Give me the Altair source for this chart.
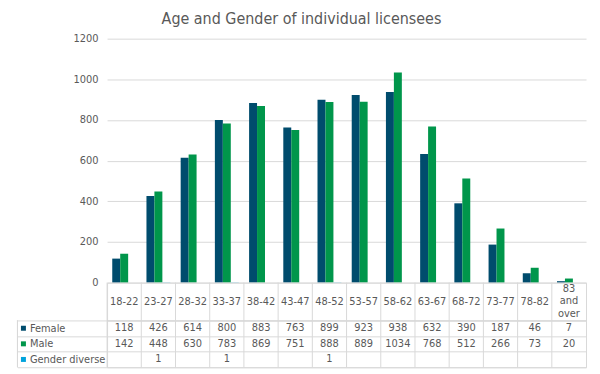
import altair as alt
import pandas as pd

categories = ["18-22", "23-27", "28-32", "33-37", "38-42", "43-47", "48-52",
              "53-57", "58-62", "63-67", "68-72", "73-77", "78-82", "83 and over"]
female = [118, 426, 614, 800, 883, 763, 899, 923, 938, 632, 390, 187, 46, 7]
male = [142, 448, 630, 783, 869, 751, 888, 889, 1034, 768, 512, 266, 73, 20]
gender_diverse = [None, 1, None, 1, None, None, 1, None, None, None, None, None, None, None]
series_names = ["Female", "Male", "Gender diverse"]
series_colors = ["#004c6d", "#00964b", "#00a3dc"]
y_ticks = [0, 200, 400, 600, 800, 1000, 1200]
title_text = "Age and Gender of individual licensees"

FONT = "DejaVu Sans Condensed, Liberation Sans, sans-serif"
GREY = "#595959"
GRID = "#d9d9d9"

rows = []
for s, vals in zip(series_names, [female, male, gender_diverse]):
    for c, v in zip(categories, vals):
        rows.append({"category": c, "series": s, "value": v,
                     "label": "" if v is None else str(v)})
df = pd.DataFrame(rows)
bar_df = df[df["label"] != ""].copy()
bar_df["value"] = bar_df["value"].astype(int)
cat_df = pd.DataFrame({"category": categories})
ser_df = pd.DataFrame({"series": series_names})

color_scale = alt.Scale(domain=series_names, range=series_colors)
x_scale = alt.Scale(domain=categories, paddingInner=0, paddingOuter=0)
W = 481

bars = alt.Chart(bar_df).mark_bar().encode(
    x=alt.X("category:N", scale=x_scale, axis=None, sort=categories),
    xOffset=alt.XOffset("series:N", sort=series_names,
                        scale=alt.Scale(domain=series_names, paddingInner=0, paddingOuter=0.65)),
    y=alt.Y("value:Q", scale=alt.Scale(domain=[0, 1200]),
            axis=alt.Axis(values=y_ticks, title=None, grid=True, gridColor=GRID,
                          domain=False, ticks=False, labelPadding=9, format="d",
                          labelColor=GREY, labelFontSize=11, labelFont=FONT)),
    color=alt.Color("series:N", scale=color_scale, legend=None),
).properties(width=W, height=245, view=alt.ViewBackground(stroke="transparent"))

col_rules = alt.Chart(cat_df).mark_rule(color=GRID, strokeWidth=1).encode(
    x=alt.X("category:N", scale=x_scale, axis=None, sort=categories, bandPosition=0)
)

header_single = alt.Chart(cat_df).transform_filter(
    "indexof(datum.category, ' ') < 0"
).mark_text(font=FONT, fontSize=11, color=GREY).encode(
    x=alt.X("category:N", scale=x_scale, axis=None, sort=categories),
    text="category:N",
)
header_multi = alt.Chart(cat_df).transform_filter(
    "indexof(datum.category, ' ') >= 0"
).mark_text(lineBreak=" ", lineHeight=12.5, dy=-12.5, font=FONT, fontSize=11,
            color=GREY).encode(
    x=alt.X("category:N", scale=x_scale, axis=None, sort=categories),
    text="category:N",
)
header = alt.layer(col_rules, header_single, header_multi).properties(
    width=W, height=38, view=alt.ViewBackground(stroke=GRID))

row_scale = alt.Scale(domain=series_names, paddingInner=0, paddingOuter=0)
y_rows = alt.Y("series:N", scale=row_scale, sort=series_names,
               axis=alt.Axis(title=None, tickBand="extent", tickSize=90, tickColor=GRID,
                             grid=True, gridColor=GRID, domain=False,
                             labelAlign="left", labelPadding=-12, labelColor=GREY,
                             labelFont=FONT, labelFontSize=11))

values_text = alt.Chart(bar_df).mark_text(font=FONT, fontSize=11, color=GREY).encode(
    x=alt.X("category:N", scale=x_scale, axis=None, sort=categories),
    y=y_rows,
    text="label:N",
)
swatches = alt.Chart(ser_df).mark_square(size=25, opacity=1).encode(
    x=alt.value(-84),
    y=y_rows,
    color=alt.Color("series:N", scale=color_scale, legend=None),
)
left_border = alt.Chart(ser_df).mark_rule(color=GRID).encode(x=alt.value(-90))

values = alt.layer(col_rules, left_border, values_text, swatches).properties(
    width=W, height=47, view=alt.ViewBackground(stroke=GRID))

chart = alt.vconcat(bars, header, values, spacing=0, bounds="flush").properties(
    title=alt.TitleParams(title_text, font=FONT, fontSize=16, color=GREY,
                          fontWeight="normal", anchor="middle", baseline="alphabetic",
                          offset=-8),
    padding={"left": 8.5, "top": 2, "right": 5, "bottom": 2},
).configure(font=FONT)

chart.save("out.html", embed_options={"renderer": "svg", "actions": False})
